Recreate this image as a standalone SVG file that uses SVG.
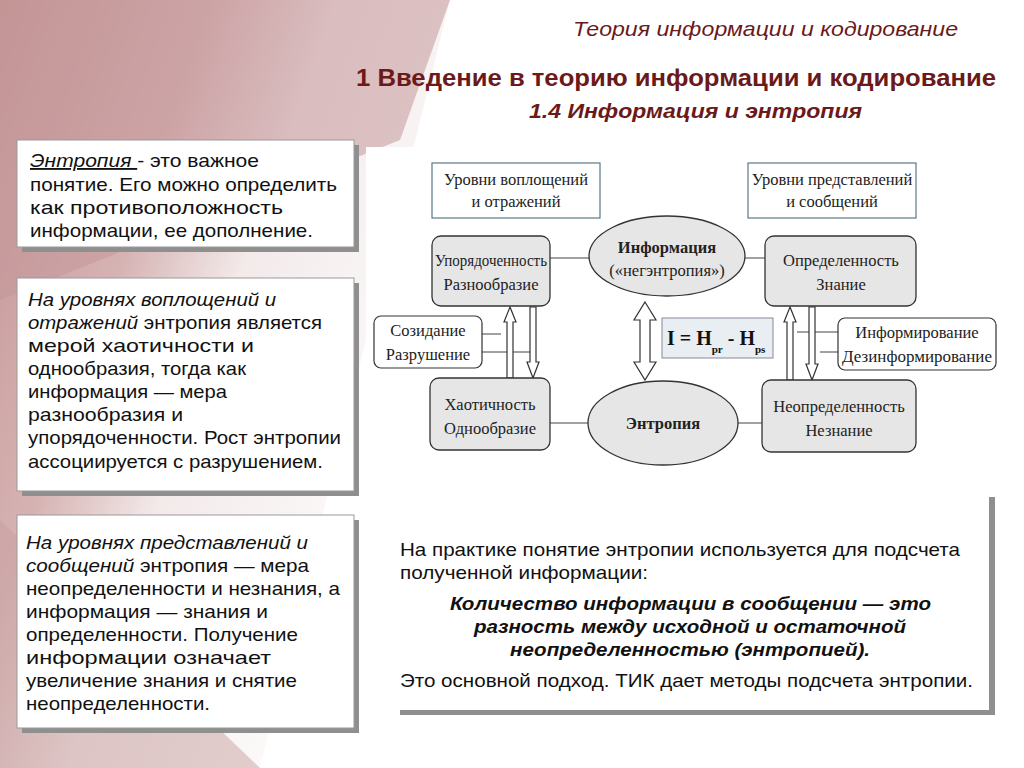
<svg xmlns="http://www.w3.org/2000/svg" width="1024" height="768" viewBox="0 0 1024 768">
<defs>
<linearGradient id="bg" x1="0" y1="0" x2="1" y2="0.6">
<stop offset="0" stop-color="#c2928f"/><stop offset="0.35" stop-color="#d6b3b3"/><stop offset="0.55" stop-color="#f3eaea"/><stop offset="1" stop-color="#ffffff"/>
</linearGradient>
</defs>
<style>
.tb{fill:#fff;stroke:#999;stroke-width:1}
.sh{fill:#8f8f8f}
.t{font-family:"Liberation Sans",Arial,sans-serif;font-size:18.5px;fill:#111}
.ti{font-style:italic}
.d{font-family:"Liberation Serif","Times New Roman",serif;font-size:16.5px;fill:#222;text-anchor:middle}
.nb{fill:#e6e6e6;stroke:#333;stroke-width:1.3}
.lb{fill:#fff;stroke:#5a7a8a;stroke-width:1.2}
.ln{stroke:#444;stroke-width:1;fill:none}
.ar{fill:#fff;stroke:#333;stroke-width:1.2}
.hd{font-family:"Liberation Sans",Arial,sans-serif;fill:#6b1a1a}
</style>
<rect width="1024" height="768" fill="#fff"/>
<polygon points="0,0 450,0 260,768 0,768" fill="url(#bg)"/>
<polygon points="0,0 450,0 400,140 0,300" fill="#c4989a" opacity="0.55"/>
<polygon points="0,520 260,768 0,768" fill="#c8a0a0" opacity="0.5"/>
<text class="hd" x="958" y="36" font-size="21" font-style="italic" text-anchor="end" textLength="385" lengthAdjust="spacingAndGlyphs">Теория информации и кодирование</text>
<text class="hd" x="996" y="86" font-size="24" font-weight="bold" text-anchor="end" textLength="640" lengthAdjust="spacingAndGlyphs">1 Введение в теорию информации и кодирование</text>
<text class="hd" x="862" y="118" font-size="21" font-weight="bold" font-style="italic" text-anchor="end" textLength="333" lengthAdjust="spacingAndGlyphs">1.4 Информация и энтропия</text>

<g id="text1">
<rect class="sh" x="22" y="145" width="337" height="107"/>
<rect class="tb" x="17" y="140" width="337" height="107"/>
<text class="t" x="30" y="167" textLength="229" lengthAdjust="spacingAndGlyphs"><tspan class="ti" text-decoration="underline">Энтропия </tspan>-  это важное</text>
<text class="t" x="30" y="191" textLength="307" lengthAdjust="spacingAndGlyphs">понятие. Его можно определить</text>
<text class="t" x="30" y="214" textLength="253" lengthAdjust="spacingAndGlyphs">как противоположность</text>
<text class="t" x="30" y="237" textLength="283" lengthAdjust="spacingAndGlyphs">информации, ее дополнение.</text>
</g>
<g id="text2">
<rect class="sh" x="22" y="283" width="337" height="213"/>
<rect class="tb" x="17" y="278" width="337" height="213"/>
<text class="t" x="28" y="306" textLength="248" lengthAdjust="spacingAndGlyphs"><tspan class="ti">На уровнях воплощений и</tspan></text>
<text class="t" x="28" y="329" textLength="294" lengthAdjust="spacingAndGlyphs"><tspan class="ti">отражений</tspan> энтропия является</text>
<text class="t" x="28" y="352" textLength="226" lengthAdjust="spacingAndGlyphs">мерой хаотичности и</text>
<text class="t" x="28" y="375" textLength="218" lengthAdjust="spacingAndGlyphs">однообразия, тогда как</text>
<text class="t" x="28" y="398" textLength="199" lengthAdjust="spacingAndGlyphs">информация — мера</text>
<text class="t" x="28" y="421" textLength="155" lengthAdjust="spacingAndGlyphs">разнообразия и</text>
<text class="t" x="28" y="444" textLength="313" lengthAdjust="spacingAndGlyphs">упорядоченности. Рост энтропии</text>
<text class="t" x="28" y="468" textLength="295" lengthAdjust="spacingAndGlyphs">ассоциируется с разрушением.</text>
</g>
<g id="text3">
<rect class="sh" x="22" y="520" width="337" height="213"/>
<rect class="tb" x="17" y="515" width="337" height="213"/>
<text class="t" x="26" y="549" textLength="282" lengthAdjust="spacingAndGlyphs"><tspan class="ti">На уровнях представлений и</tspan></text>
<text class="t" x="26" y="572" textLength="283" lengthAdjust="spacingAndGlyphs"><tspan class="ti">сообщений</tspan> энтропия — мера</text>
<text class="t" x="26" y="595" textLength="314" lengthAdjust="spacingAndGlyphs">неопределенности и незнания, а</text>
<text class="t" x="26" y="618" textLength="242" lengthAdjust="spacingAndGlyphs">информация — знания и</text>
<text class="t" x="26" y="641" textLength="272" lengthAdjust="spacingAndGlyphs">определенности. Получение</text>
<text class="t" x="26" y="664" textLength="245" lengthAdjust="spacingAndGlyphs">информации означает</text>
<text class="t" x="26" y="687" textLength="271" lengthAdjust="spacingAndGlyphs">увеличение знания и снятие</text>
<text class="t" x="26" y="710" textLength="184" lengthAdjust="spacingAndGlyphs">неопределенности.</text>
</g>
<g id="text4">
<rect class="sh" x="400" y="497" width="595" height="218"/>
<rect x="394" y="497" width="595" height="213" fill="#fff"/>
<text class="t" x="400" y="556" textLength="560" lengthAdjust="spacingAndGlyphs">На практике понятие энтропии используется для подсчета</text>
<text class="t" x="400" y="579" textLength="248" lengthAdjust="spacingAndGlyphs">полученной информации:</text>
<text class="t" x="450" y="610" font-weight="bold" font-style="italic" textLength="481" lengthAdjust="spacingAndGlyphs">Количество информации в сообщении — это</text>
<text class="t" x="474" y="633" font-weight="bold" font-style="italic" textLength="432" lengthAdjust="spacingAndGlyphs">разность между исходной и остаточной</text>
<text class="t" x="510" y="656" font-weight="bold" font-style="italic" textLength="360" lengthAdjust="spacingAndGlyphs">неопределенностью (энтропией).</text>
<text class="t" x="400" y="687" textLength="573" lengthAdjust="spacingAndGlyphs">Это основной подход. ТИК дает методы подсчета энтропии.</text>
</g>

<rect x="366" y="147" width="650" height="328" fill="#fff"/>
<g id="connectors">
<line class="ln" x1="550" y1="258" x2="590" y2="258"/>
<line class="ln" x1="745" y1="258" x2="765" y2="258"/>
<line class="ln" x1="550" y1="423" x2="588" y2="423"/>
<line class="ln" x1="738" y1="423" x2="762" y2="423"/>
<line class="ln" x1="482" y1="334" x2="501" y2="334"/>
<line class="ln" x1="482" y1="352" x2="531" y2="352"/>
<line class="ln" x1="797" y1="332" x2="838" y2="332"/>
<line class="ln" x1="820" y1="352" x2="838" y2="352"/>
<polygon class="ar" points="510,307 516,322 513,322 513,378 507,378 507,322 504,322"/>
<polygon class="ar" points="533,378 539,362 536,362 536,307 530,307 530,362 527,362"/>
<polygon class="ar" points="790,307 796,322 793,322 793,380 787,380 787,322 784,322"/>
<polygon class="ar" points="812,380 818,364 815,364 815,307 809,307 809,364 806,364"/>
<polygon class="ar" points="645,302 656,320 650,320 650,362 656,362 645,380 634,362 640,362 640,320 634,320"/>
</g>
<g id="lvl1"><rect class="lb" x="432" y="163" width="168" height="55"/><text class="d" x="516" y="185">Уровни воплощений</text><text class="d" x="516" y="207">и отражений</text></g>
<g id="lvl2"><rect class="lb" x="748" y="163" width="168" height="55"/><text class="d" x="832" y="185">Уровни представлений</text><text class="d" x="832" y="207">и сообщений</text></g>
<g id="order"><rect class="nb" x="432" y="236" width="118" height="70" rx="9"/><text class="d" x="491" y="266" textLength="112" lengthAdjust="spacingAndGlyphs">Упорядоченность</text><text class="d" x="491" y="290">Разнообразие</text></g>
<g id="info"><ellipse class="nb" cx="667" cy="256" rx="78" ry="40"/><text class="d" x="667" y="253" font-weight="bold">Информация</text><text class="d" x="667" y="276">(«негэнтропия»)</text></g>
<g id="cert"><rect class="nb" x="765" y="236" width="151" height="70" rx="9"/><text class="d" x="841" y="266">Определенность</text><text class="d" x="841" y="290">Знание</text></g>
<g id="create"><rect x="374" y="316" width="108" height="52" rx="7" fill="#fff" stroke="#333" stroke-width="1.2"/><text class="d" x="428" y="336">Созидание</text><text class="d" x="428" y="360">Разрушение</text></g>
<g id="formula"><rect x="662" y="318" width="111" height="40" fill="#e8eef2" stroke="#889" stroke-width="1"/><text x="667" y="345" font-family="Liberation Serif,serif" font-weight="bold" font-size="20" fill="#111">I = H<tspan font-size="11" dy="8">pr</tspan><tspan dy="-8"> - H</tspan><tspan font-size="11" dy="8">ps</tspan></text></g>
<g id="inform"><rect x="838" y="318" width="158" height="52" rx="7" fill="#fff" stroke="#333" stroke-width="1.2"/><text class="d" x="917" y="338">Информирование</text><text class="d" x="917" y="362" textLength="150" lengthAdjust="spacingAndGlyphs">Дезинформирование</text></g>
<g id="chaos"><rect class="nb" x="430" y="378" width="120" height="72" rx="9"/><text class="d" x="490" y="410">Хаотичность</text><text class="d" x="490" y="434">Однообразие</text></g>
<g id="entropy"><ellipse class="nb" cx="663" cy="423" rx="75" ry="42"/><text class="d" x="663" y="429" font-weight="bold">Энтропия</text></g>
<g id="uncert"><rect class="nb" x="762" y="380" width="154" height="72" rx="9"/><text class="d" x="839" y="412">Неопределенность</text><text class="d" x="839" y="436">Незнание</text></g>
</svg>
